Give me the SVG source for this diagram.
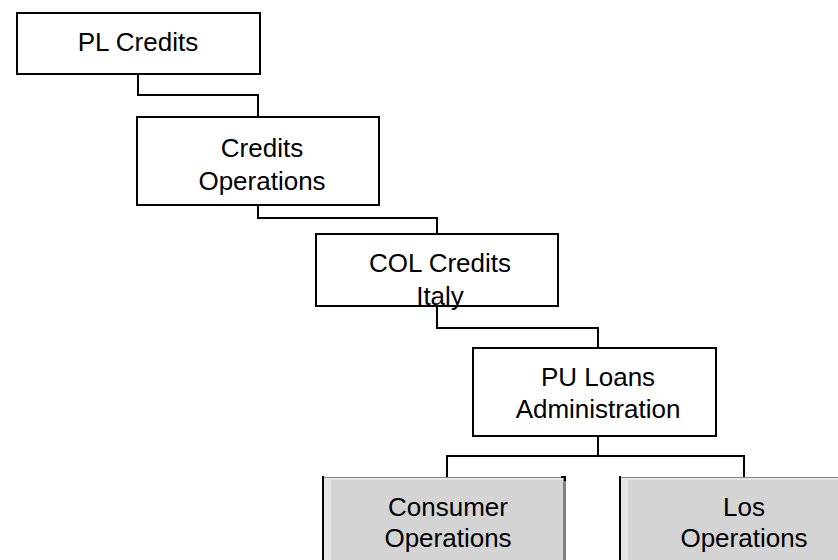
<svg xmlns="http://www.w3.org/2000/svg" width="838" height="560" viewBox="0 0 838 560">
  <defs>
    <style>
      .box { fill: #ffffff; stroke: #000000; stroke-width: 2; }
      .leaf { fill: #d4d4d4; }
      .leaf-top { stroke: #8c8c8c; stroke-width: 1; }
      .leaf-hi { fill: #e6e6e6; }
      .leaf-left { stroke: #000000; stroke-width: 2; }
      .leaf-right { fill: #808080; }
      .label { font-family: "Liberation Sans", Arial, sans-serif; font-size: 26px; fill: #000000; text-anchor: middle; }
      .wire { fill: none; stroke: #000000; stroke-width: 2; }
    </style>
  </defs>
  <rect width="838" height="560" fill="#ffffff"/>

  <!-- connectors -->
  <g id="connectors">
    <polyline class="wire" points="138,74 138,95 258,95 258,117"/>
    <polyline class="wire" points="258,205 258,218 437,218 437,234"/>
    <polyline class="wire" points="437,306 437,328 598,328 598,348"/>
    <polyline class="wire" points="598,436 598,456 447,456 447,477"/>
    <polyline class="wire" points="598,456 744,456 744,477"/>
  </g>

  <g id="pl-credits">
    <rect class="box" x="17" y="13" width="243" height="61"/>
    <text class="label" x="138" y="51">PL Credits</text>
  </g>

  <g id="credits-operations">
    <rect class="box" x="137" y="117" width="242" height="88"/>
    <text class="label" x="262" y="157">Credits</text>
    <text class="label" x="262" y="190">Operations</text>
  </g>

  <g id="col-credits-italy">
    <rect class="box" x="316" y="234" width="242" height="72"/>
    <text class="label" x="440" y="272">COL Credits</text>
    <text class="label" x="440" y="305">Italy</text>
  </g>

  <g id="pu-loans-administration">
    <rect class="box" x="473" y="348" width="243" height="88"/>
    <text class="label" x="598" y="386">PU Loans</text>
    <text class="label" x="598" y="418">Administration</text>
  </g>

  <g id="consumer-operations">
    <rect class="leaf" x="322" y="477" width="244" height="83"/>
    <rect class="leaf-hi" x="324" y="478" width="7" height="82"/>
    <rect class="leaf-hi" x="324" y="478" width="239" height="2"/>
    <line class="leaf-top" x1="322" y1="477.5" x2="566" y2="477.5"/>
    <line class="leaf-left" x1="323" y1="476" x2="323" y2="560"/>
    <rect class="leaf-right" x="563" y="477" width="3" height="83"/>
    <polyline class="leaf-left" fill="none" points="561,477 565,477 565,481"/>
    <text class="label" x="448" y="516">Consumer</text>
    <text class="label" x="448" y="547">Operations</text>
  </g>

  <g id="los-operations">
    <rect class="leaf" x="619" y="477" width="250" height="83"/>
    <rect class="leaf-hi" x="621" y="478" width="7" height="82"/>
    <rect class="leaf-hi" x="621" y="478" width="240" height="2"/>
    <line class="leaf-top" x1="619" y1="477.5" x2="869" y2="477.5"/>
    <line class="leaf-left" x1="620" y1="476" x2="620" y2="560"/>
    <text class="label" x="744" y="516">Los</text>
    <text class="label" x="744" y="547">Operations</text>
  </g>
</svg>
